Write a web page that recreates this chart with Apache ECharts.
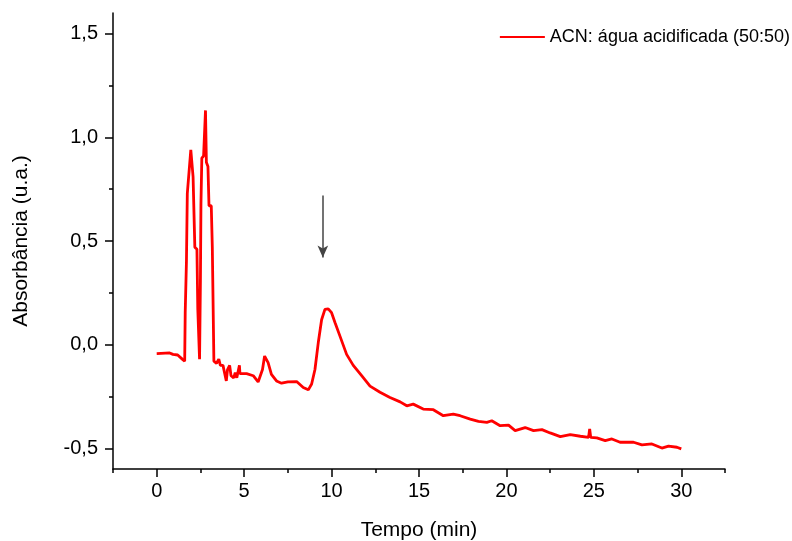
<!DOCTYPE html>
<html>
<head>
<meta charset="utf-8">
<script src="https://cdn.jsdelivr.net/npm/echarts@6/dist/echarts.min.js"></script>
<style>
  html, body { margin: 0; padding: 0; background: #fff; }
  #main { width: 792px; height: 541px; }
</style>
</head>
<body>
<div id="main"></div>
<script>
// chromatogram (tempo in min, absorbância in u.a.)
var tempo = [
  0.0, 0.74, 0.93, 1.2, 1.46, 1.6, 1.63, 1.7, 1.75, 1.95, 2.08, 2.18, 2.3, 2.35, 2.45,
  2.5, 2.53, 2.58, 2.68, 2.79, 2.84, 2.93, 2.99, 3.12, 3.18, 3.27, 3.42, 3.55, 3.64,
  3.79, 3.98, 4.05, 4.17, 4.25, 4.4, 4.49, 4.58, 4.73, 4.76, 5.14, 5.52, 5.8, 5.9,
  6.05, 6.17, 6.37, 6.56, 6.85, 7.14, 7.5, 8.0, 8.38, 8.67, 8.86, 9.05, 9.24, 9.43,
  9.62, 9.81, 10.0, 10.2, 10.48, 10.86, 11.24, 11.72, 12.2, 12.77, 13.34, 13.92,
  14.3, 14.67, 15.24, 15.82, 16.39, 16.96, 17.35, 17.93, 18.4, 18.88, 19.16, 19.64,
  20.12, 20.5, 21.07, 21.55, 22.03, 22.5, 23.08, 23.65, 24.23, 24.7, 24.76, 24.82,
  25.17, 25.65, 26.03, 26.5, 27.27, 27.75, 28.32, 28.89, 29.27, 29.75, 30.0
];
var absorbancia = [
  -0.043, -0.04, -0.047, -0.05, -0.07, -0.08, 0.155, 0.40, 0.73, 0.94, 0.81, 0.47, 0.46, 0.17, -0.07,
  0.31, 0.68, 0.90, 0.91, 1.13, 0.88, 0.86, 0.67, 0.67, 0.47, -0.08, -0.09, -0.07, -0.10,
  -0.10, -0.175, -0.12, -0.10, -0.15, -0.16, -0.135, -0.16, -0.10, -0.14, -0.14, -0.15, -0.18, -0.18,
  -0.12, -0.055, -0.087, -0.143, -0.175, -0.186, -0.18, -0.178, -0.207, -0.218, -0.19, -0.12, 0.01, 0.12,
  0.17, 0.173, 0.154, 0.106, 0.041, -0.047, -0.10, -0.15, -0.20, -0.23, -0.255, -0.276,
  -0.295, -0.287, -0.311, -0.314, -0.343, -0.335, -0.343, -0.359, -0.37, -0.375, -0.367, -0.391,
  -0.388, -0.415, -0.40, -0.415, -0.41, -0.426, -0.444, -0.434, -0.442, -0.447, -0.407, -0.447,
  -0.45, -0.463, -0.455, -0.471, -0.471, -0.484, -0.479, -0.499, -0.49, -0.495, -0.503
];
var xMajor = [0, 5, 10, 15, 20, 25, 30];
var xMinor = [-2.5, 2.5, 7.5, 12.5, 17.5, 22.5, 27.5, 32.5];
var yMajor = [-0.5, 0, 0.5, 1, 1.5];
var yMinor = [-0.25, 0.25, 0.75, 1.25];
var serieNome = "ACN: água acidificada (50:50)";
// arrow pointing at the peak near 9.5 min
var seta = [[9.5, 0.72], [9.5, 0.42]];

var pontos = [];
for (var i = 0; i < tempo.length; i++) {
  pontos.push([tempo[i], absorbancia[i]]);
}

var fonte = "Liberation Sans, Arial, sans-serif";
var tick = { color: "#000", width: 1.5 };

var chart = echarts.init(document.getElementById("main"));
chart.setOption({
  animation: false,
  grid: { left: 113, right: 67, top: 13, bottom: 72, outerBoundsMode: "none" },
  legend: {
    right: 2,
    top: 28,
    padding: 0,
    icon: "rect",
    itemWidth: 45,
    itemHeight: 2,
    itemGap: 6,
    data: [serieNome],
    textStyle: { fontFamily: fonte, fontSize: 18, color: "#000" }
  },
  xAxis: [
    {
      type: "value",
      min: -2.5,
      max: 32.5,
      name: "Tempo (min)",
      nameLocation: "middle",
      nameGap: 51,
      nameTextStyle: { fontFamily: fonte, fontSize: 21, color: "#000" },
      axisLine: { onZero: false, lineStyle: tick },
      splitLine: { show: false },
      axisTick: { customValues: xMajor, length: 8, lineStyle: tick },
      axisLabel: {
        customValues: xMajor,
        margin: 12,
        fontFamily: fonte,
        fontSize: 20,
        color: "#000"
      }
    },
    {
      type: "value",
      min: -2.5,
      max: 32.5,
      position: "bottom",
      axisLine: { show: false, onZero: false },
      splitLine: { show: false },
      axisLabel: { show: false },
      axisTick: { customValues: xMinor, length: 4, lineStyle: tick }
    }
  ],
  yAxis: [
    {
      type: "value",
      min: -0.6,
      max: 1.6,
      name: "Absorbância (u.a.)",
      nameLocation: "middle",
      nameGap: 81,
      nameTextStyle: { fontFamily: fonte, fontSize: 21, color: "#000" },
      axisLine: { show: true, onZero: false, lineStyle: tick },
      splitLine: { show: false },
      axisTick: { show: true, customValues: yMajor, length: 8, lineStyle: tick },
      axisLabel: {
        customValues: yMajor,
        margin: 15,
        fontFamily: fonte,
        fontSize: 20,
        color: "#000",
        formatter: function (v) {
          return v.toFixed(1).replace(".", ",");
        }
      }
    },
    {
      type: "value",
      min: -0.6,
      max: 1.6,
      position: "left",
      axisLine: { show: false, onZero: false },
      splitLine: { show: false },
      axisLabel: { show: false },
      axisTick: { show: true, customValues: yMinor, length: 4, lineStyle: tick }
    }
  ],
  series: [
    {
      name: serieNome,
      type: "line",
      data: pontos,
      showSymbol: false,
      symbol: "none",
      itemStyle: { color: "#ff0000" },
      lineStyle: { color: "#ff0000", width: 2.8 },
      markLine: {
        silent: true,
        symbolSize: [8, 12],
        label: { show: false },
        lineStyle: { color: "#444", type: "solid", width: 1.5 },
        data: [[
          { coord: seta[0], symbol: "none" },
          { coord: seta[1], symbol: "arrow" }
        ]]
      }
    }
  ]
});
</script>
</body>
</html>
